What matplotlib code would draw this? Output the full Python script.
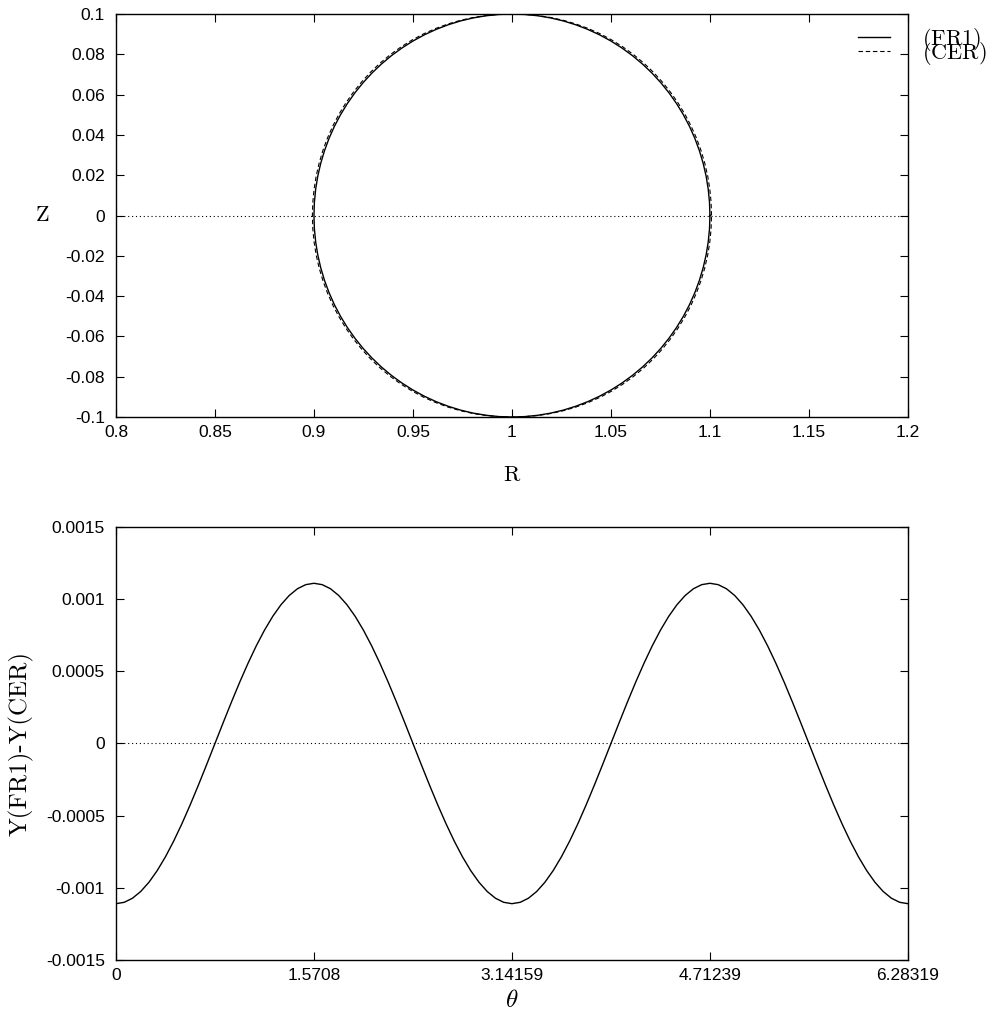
"""
Boundary shape comparison: FR1 vs CER, and the Y difference against theta.
"""
import numpy as np
import matplotlib
matplotlib.use("Agg")
import matplotlib.pyplot as plt

plt.rcParams["mathtext.fontset"] = "cm"

# --- top panel: boundary curves, read over one quadrant (theta 0..90 deg,
# step 3.75 deg); the shapes are up/down and left/right symmetric ---
R0 = 1.0
fr1_dr_q = [0.1, 0.099786, 0.099144, 0.098079, 0.096593, 0.094693, 0.092388, 0.089687, 0.086603,
            0.083147, 0.079335, 0.075184, 0.070711, 0.065935, 0.060876, 0.055557, 0.05,
            0.044229, 0.038268, 0.032144, 0.025882, 0.019509, 0.013053, 0.00654, 0.0]
fr1_z_q = [0.0, 0.00654, 0.013053, 0.019509, 0.025882, 0.032144, 0.038268, 0.044229, 0.05,
           0.055557, 0.060876, 0.065935, 0.070711, 0.075184, 0.079335, 0.083147, 0.086603,
           0.089687, 0.092388, 0.094693, 0.096593, 0.098079, 0.099144, 0.099786, 0.1]
cer_dr_q = [0.1008, 0.100584, 0.099937, 0.098864, 0.097366, 0.095451, 0.093127, 0.090404, 0.087296,
            0.083812, 0.079970, 0.075785, 0.071277, 0.066449, 0.061332, 0.055946, 0.050325,
            0.044494, 0.038459, 0.032273, 0.025960, 0.019548, 0.013066, 0.006543, 0.0]
cer_z_q = [0.0, 0.006592, 0.013157, 0.019665, 0.026089, 0.032401, 0.038574, 0.044583, 0.0504,
           0.056001, 0.061363, 0.066462, 0.071277, 0.075770, 0.079930, 0.083729, 0.087166,
           0.090225, 0.092850, 0.095072, 0.096883, 0.098275, 0.099243, 0.099836, 0.1]

r_ticks = [0.8, 0.85, 0.9, 0.95, 1.0, 1.05, 1.1, 1.15, 1.2]
r_ticklabels = ["0.8", "0.85", "0.9", "0.95", "1", "1.05", "1.1", "1.15", "1.2"]
z_ticks = [-0.1, -0.08, -0.06, -0.04, -0.02, 0.0, 0.02, 0.04, 0.06, 0.08, 0.1]
z_ticklabels = ["-0.1", "-0.08", "-0.06", "-0.04", "-0.02", "0", "0.02", "0.04", "0.06", "0.08", "0.1"]

# --- bottom panel: Y(FR1) - Y(CER), read over theta 0..90 deg (step 3.75 deg);
# the curve repeats mirrored every quarter turn ---
theta_step_deg = 3.75
dy_q = [-0.00111, -0.0011005, -0.0010722, -0.0010255, -0.0009613, -0.0008806, -0.0007849,
        -0.0006757, -0.000555, -0.0004248, -0.0002873, -0.0001449, 0.0, 0.0001449, 0.0002873,
        0.0004248, 0.000555, 0.0006757, 0.0007849, 0.0008806, 0.0009613, 0.0010255, 0.0010722,
        0.0011005, 0.00111]

t_ticks = [0, 1.5708, 3.14159, 4.71239, 6.28319]
t_ticklabels = ["0", "1.5708", "3.14159", "4.71239", "6.28319"]
d_ticks = [-0.0015, -0.001, -0.0005, 0.0, 0.0005, 0.001, 0.0015]
d_ticklabels = ["-0.0015", "-0.001", "-0.0005", "0", "0.0005", "0.001", "0.0015"]

TICK_FAMILY = "Liberation Sans"
TICK_SIZE = 12.5
LABEL_FONT = "cmr10"


def closed_curve(dr_q, z_q):
    """Assemble the full closed boundary from its first-quadrant samples."""
    dr = np.asarray(dr_q)
    z = np.asarray(z_q)
    r_full = np.concatenate([R0 + dr, R0 - dr[::-1][1:], R0 - dr[1:], R0 + dr[::-1][1:]])
    z_full = np.concatenate([z, z[::-1][1:], -z[1:], -z[::-1][1:]])
    return r_full, z_full


def style_axes(ax):
    ax.tick_params(direction="in", length=6, width=0.8, top=True, right=True,
                   labelsize=TICK_SIZE)
    ax.tick_params(axis="x", pad=6)
    ax.tick_params(axis="y", pad=8)
    for lab in ax.get_xticklabels() + ax.get_yticklabels():
        lab.set_fontfamily(TICK_FAMILY)
    for sp in ax.spines.values():
        sp.set_linewidth(1.0)


fig = plt.figure(figsize=(10.05, 10.09), dpi=100)
ax1 = fig.add_axes([0.1154, 0.5867, 0.788, 0.3994])
ax2 = fig.add_axes([0.1154, 0.0486, 0.788, 0.4291])

# top panel
fr1_r, fr1_z = closed_curve(fr1_dr_q, fr1_z_q)
cer_r, cer_z = closed_curve(cer_dr_q, cer_z_q)
ax1.axhline(0, color="black", lw=0.8, ls=(0, (1, 2.5)))
ax1.plot(fr1_r, fr1_z, color="black", lw=1.0, label=r"$\mathrm{(FR1)}$")
ax1.plot(cer_r, cer_z, color="black", lw=0.8, ls=(0, (4, 2.5)), label=r"$\mathrm{(CER)}$")
ax1.set_xlim(0.8, 1.2)
ax1.set_ylim(-0.1, 0.1)
ax1.set_xticks(r_ticks, r_ticklabels)
ax1.set_yticks(z_ticks, z_ticklabels)
style_axes(ax1)
ax1.set_xlabel("R", fontfamily=LABEL_FONT, fontsize=16)
ax1.set_ylabel("Z", fontfamily=LABEL_FONT, fontsize=16, rotation=0, va="center")
ax1.xaxis.set_label_coords(0.5, -0.12)
ax1.yaxis.set_label_coords(-0.093, 0.5)
ax1.legend(loc="upper left", bbox_to_anchor=(0.937, 0.97), frameon=False,
           fontsize=16, handlelength=1.44, handletextpad=1.44, labelspacing=-0.58,
           borderpad=0, borderaxespad=0)

# bottom panel
dy_half = np.concatenate([dy_q, dy_q[::-1][1:]])
dy = np.concatenate([dy_half, dy_half[1:]])
theta = np.deg2rad(np.arange(len(dy)) * theta_step_deg)
ax2.axhline(0, color="black", lw=0.8, ls=(0, (1, 2.5)))
ax2.plot(theta, dy, color="black", lw=1.0)
ax2.set_xlim(0, 6.28319)
ax2.set_ylim(-0.0015, 0.0015)
ax2.set_xticks(t_ticks, t_ticklabels)
ax2.set_yticks(d_ticks, d_ticklabels)
style_axes(ax2)
ax2.set_xlabel(r"$\theta$", fontsize=18)
ax2.set_ylabel("Y(FR1)-Y(CER)", fontfamily=LABEL_FONT, fontsize=18)
ax2.xaxis.set_label_coords(0.5, -0.064)
ax2.yaxis.set_label_coords(-0.104, 0.5)

fig.savefig("out.png", dpi=100)
plt.close(fig)
